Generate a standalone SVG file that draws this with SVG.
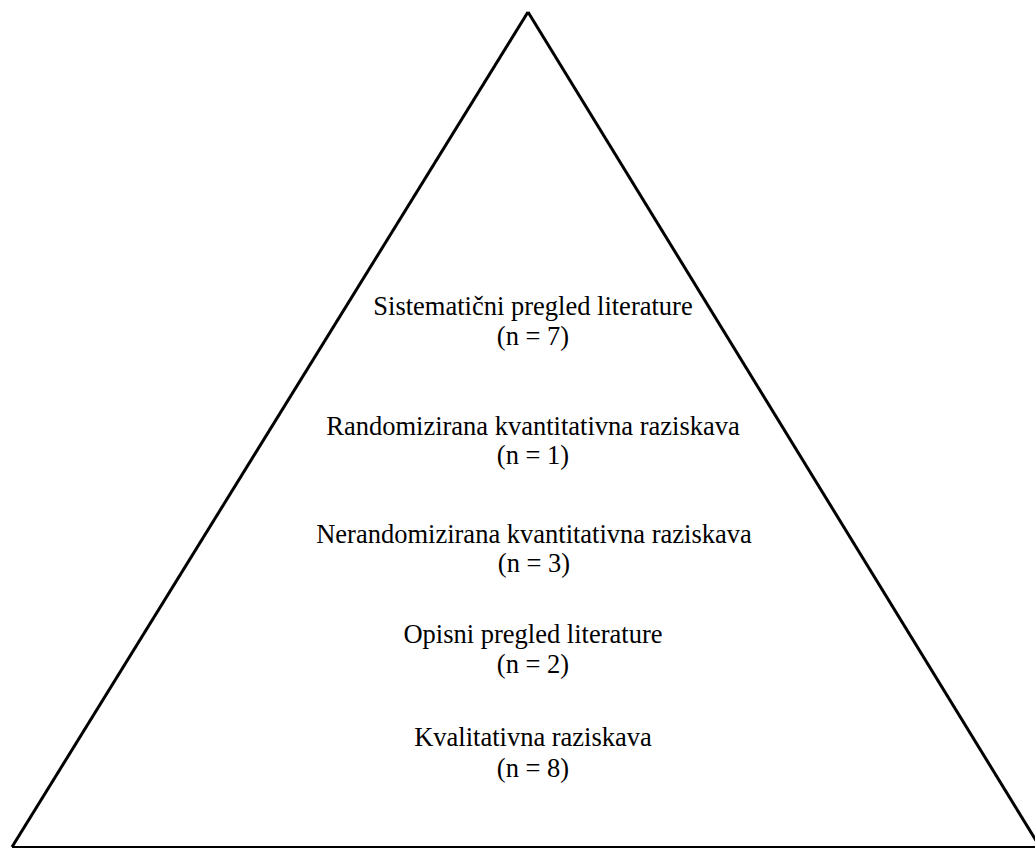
<svg xmlns="http://www.w3.org/2000/svg" width="1035" height="849" viewBox="0 0 1035 849">
<style>
.lbl{font-family:"Liberation Serif","Times New Roman",serif;font-size:26.5px;fill:#000;text-anchor:middle}
.edge{stroke:#000;fill:none;stroke-linecap:butt}
</style>
<rect width="1035" height="849" fill="#fff"/>
<g id="connectors">
<line class="edge" x1="528" y1="12" x2="12" y2="847" stroke-width="3"/>
<line class="edge" x1="528" y1="12" x2="1040" y2="847" stroke-width="3"/>
<line class="edge" x1="12" y1="847" x2="1035" y2="847" stroke-width="2"/>
</g>
<g id="node-sistematicni">
<text class="lbl" x="533" y="315">Sistematični pregled literature</text>
<text class="lbl" x="533" y="345">(n = 7)</text>
</g>
<g id="node-randomizirana">
<text class="lbl" x="533" y="435">Randomizirana kvantitativna raziskava</text>
<text class="lbl" x="533" y="464">(n = 1)</text>
</g>
<g id="node-nerandomizirana">
<text class="lbl" x="534" y="543">Nerandomizirana kvantitativna raziskava</text>
<text class="lbl" x="534" y="572">(n = 3)</text>
</g>
<g id="node-opisni">
<text class="lbl" x="533" y="643">Opisni pregled literature</text>
<text class="lbl" x="533" y="673">(n = 2)</text>
</g>
<g id="node-kvalitativna">
<text class="lbl" x="533" y="746">Kvalitativna raziskava</text>
<text class="lbl" x="533" y="777">(n = 8)</text>
</g>
</svg>
